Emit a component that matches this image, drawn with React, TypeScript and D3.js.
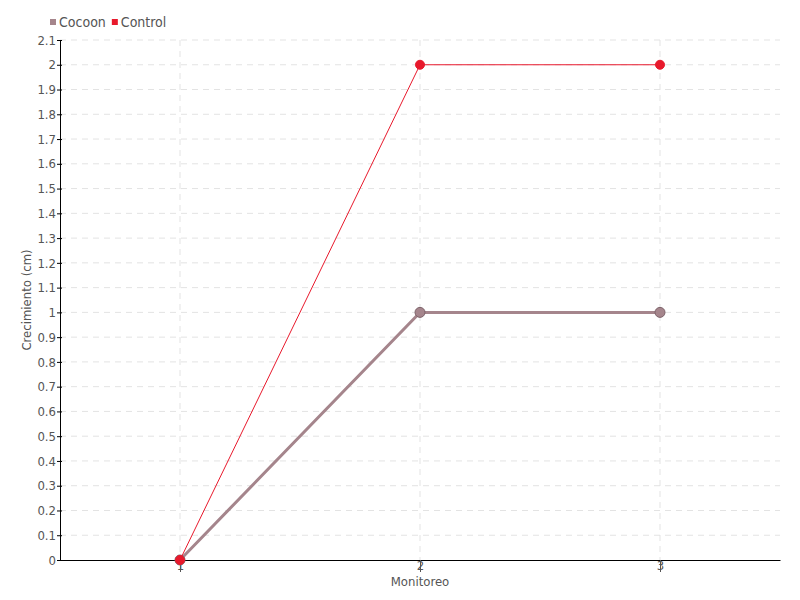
import React, { useEffect, useRef } from 'react';
import * as d3 from 'd3';

const monitoreo = [1, 2, 3];
const cocoon = [0, 1, 1];
const control = [0, 2, 2];
const yTicks = d3.range(0, 22).map((i) => i / 10);

const series = [
  { name: 'Cocoon', values: cocoon, color: '#a5858c', stroke: '#7d636a', width: 3, r: 5 },
  { name: 'Control', values: control, color: '#e8192c', stroke: '#e8192c', width: 1, r: 4.5 },
];

const FONT = '"DejaVu Sans Condensed", "DejaVu Sans", sans-serif';

export default function App() {
  const ref = useRef<SVGSVGElement>(null);

  useEffect(() => {
    const svg = d3.select(ref.current);
    svg.selectAll('*').remove();

    const left = 60, right = 780, top = 40, bottom = 560;
    const x = d3.scaleLinear().domain([0.5, 3.5]).range([left, right]);
    const y = d3.scaleLinear().domain([0, 2.1]).range([bottom, top]);

    const txt = (sel: any, size = 13) =>
      sel.attr('font-family', FONT).attr('font-size', size).attr('font-stretch', 'condensed').attr('fill', '#555');

    // grid
    const grid = svg.append('g').attr('stroke', '#e3e3e3').attr('stroke-dasharray', '6,5');
    grid.selectAll('.h').data(yTicks.slice(1)).enter().append('line')
      .attr('x1', left).attr('x2', right)
      .attr('y1', (d) => y(d)).attr('y2', (d) => y(d));
    grid.selectAll('.v').data(monitoreo).enter().append('line')
      .attr('x1', (d) => x(d)).attr('x2', (d) => x(d))
      .attr('y1', top).attr('y2', bottom);

    // y axis
    const yAxis = svg.append('g').attr('transform', `translate(${left},0)`)
      .call(d3.axisLeft(y).tickValues(yTicks).tickFormat((d) => d3.format('~g')(d as number)).tickSizeInner(4).tickSizeOuter(0));
    yAxis.selectAll('.tick line').attr('x2', 2).attr('x1', -3);
    txt(yAxis.selectAll('text')).attr('x', -4);
    yAxis.select('.domain').attr('stroke', '#000');

    // x axis
    const xAxis = svg.append('g').attr('transform', `translate(0,${bottom})`)
      .call(d3.axisBottom(x).tickValues(monitoreo).tickFormat(d3.format('d')).tickSizeInner(12).tickSizeOuter(0));
    xAxis.selectAll('.tick line').attr('stroke', '#555');
    txt(xAxis.selectAll('text')).attr('y', 1);
    xAxis.select('.domain').attr('stroke', '#000');

    // titles
    txt(svg.append('text').attr('x', 420).attr('y', 586).attr('text-anchor', 'middle')).text('Monitoreo');
    txt(svg.append('text').attr('transform', 'translate(31,300) rotate(-90)').attr('text-anchor', 'middle')).text('Crecimiento (cm)');

    // lines
    const line = d3.line<number>().x((_, i) => x(monitoreo[i])).y((d) => y(d));
    series.forEach((s) => {
      svg.append('path').datum(s.values).attr('d', line).attr('fill', 'none')
        .attr('stroke', s.color).attr('stroke-width', s.width);
      svg.selectAll(null).data(s.values).enter().append('circle')
        .attr('cx', (_, i) => x(monitoreo[i])).attr('cy', (d) => y(d)).attr('r', s.r)
        .attr('fill', s.color).attr('stroke', s.stroke).attr('stroke-width', 1);
    });

    // legend
    const legend = svg.append('g').attr('transform', 'translate(50,22)');
    let lx = 0;
    series.forEach((s) => {
      legend.append('rect').attr('x', lx).attr('y', -3).attr('width', 6).attr('height', 6).attr('fill', s.color);
      const t = txt(legend.append('text').attr('x', lx + 9).attr('y', 5), 14).text(s.name);
      lx += 9 + (t.node() as SVGTextElement).getComputedTextLength() + 6;
    });
  }, []);

  return <svg ref={ref} width={800} height={600} style={{ position: 'absolute', left: 0, top: 0 }} />;
}
